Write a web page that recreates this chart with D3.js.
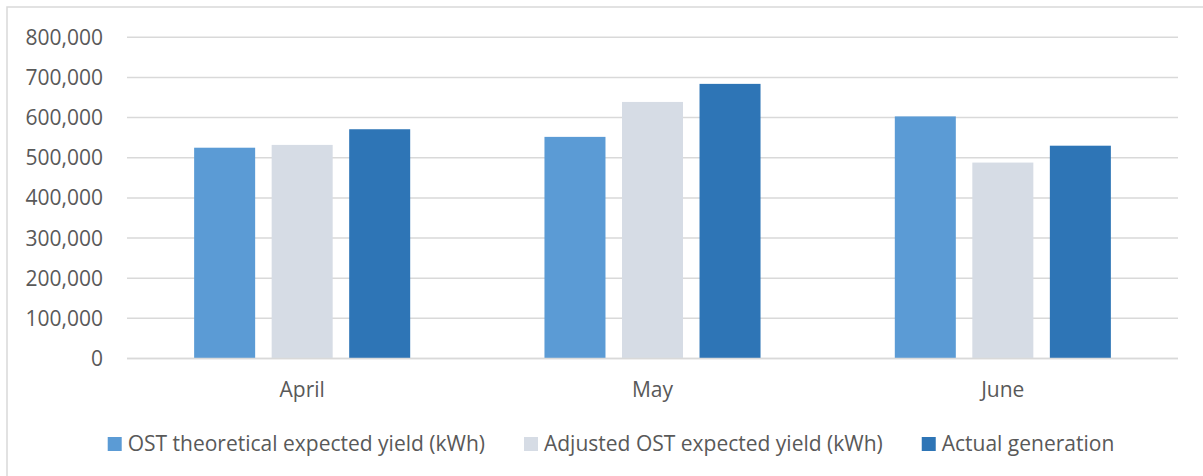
<!DOCTYPE html>
<html>
<head>
<meta charset="utf-8">
<script src="https://cdn.jsdelivr.net/npm/d3@7"></script>
<style>
  html, body { margin: 0; padding: 0; background: #fff; }
  svg { display: block; }
  text { font-family: "Open Sans", sans-serif; fill: #595959; }
</style>
</head>
<body>
<svg id="chart" width="1203" height="476"></svg>
<script>
const categories = ["April", "May", "June"];
const seriesNames = ["OST theoretical expected yield (kWh)", "Adjusted OST expected yield (kWh)", "Actual generation"];
const seriesColors = ["#5B9BD5", "#D6DCE5", "#2E75B6"];
const theoretical = [525000, 552000, 603000];
const adjusted = [532000, 639000, 488000];
const actual = [571000, 684000, 530000];
const yTicks = [0, 100000, 200000, 300000, 400000, 500000, 600000, 700000, 800000];

const seriesValues = [theoretical, adjusted, actual];
const data = categories.map((c, i) => ({
  cat: c,
  vals: seriesNames.map((s, j) => ({ key: s, idx: j, value: seriesValues[j][i] }))
}));

const svg = d3.select("#chart");
const fontSize = 21;

// outer frame
svg.append("rect")
  .attr("x", 7).attr("y", 7).attr("width", 1260).attr("height", 500)
  .attr("fill", "none").attr("stroke", "#d9d9d9").attr("stroke-width", 1.5);

const plotLeft = 127, plotRight = 1178, plotTop = 37.3, plotBottom = 358.5;

const y = d3.scaleLinear().domain([0, 800000]).range([plotBottom, plotTop]);
const x0 = d3.scaleBand().domain(categories).range([plotLeft, plotRight]).paddingInner(0).paddingOuter(0);
const x1 = d3.scaleBand().domain(d3.range(seriesNames.length))
  .range([0, x0.bandwidth()]).paddingInner(0.213).paddingOuter(0.866);

// gridlines
svg.append("g").selectAll("line").data(yTicks).join("line")
  .attr("x1", plotLeft).attr("x2", plotRight)
  .attr("y1", d => y(d)).attr("y2", d => y(d))
  .attr("stroke", "#d9d9d9").attr("stroke-width", 1.5);

// y-axis labels
const fmt = d3.format(",");
svg.append("g").selectAll("text").data(yTicks).join("text")
  .attr("x", 103).attr("y", d => y(d))
  .attr("dy", "0.36em")
  .attr("text-anchor", "end")
  .style("font-size", fontSize + "px")
  .text(d => fmt(d));

// bars
const groups = svg.append("g").selectAll("g").data(data).join("g")
  .attr("transform", d => `translate(${x0(d.cat)},0)`);
groups.selectAll("rect").data(d => d.vals).join("rect")
  .attr("x", d => x1(d.idx))
  .attr("width", x1.bandwidth())
  .attr("y", d => y(d.value))
  .attr("height", d => y(0) - y(d.value))
  .attr("fill", d => seriesColors[d.idx]);

// baseline on top
svg.append("line")
  .attr("x1", plotLeft).attr("x2", plotRight)
  .attr("y1", y(0)).attr("y2", y(0))
  .attr("stroke", "#d9d9d9").attr("stroke-width", 1.5);

// category labels
svg.append("g").selectAll("text").data(categories).join("text")
  .attr("x", d => x0(d) + x0.bandwidth() / 2)
  .attr("y", 397)
  .attr("text-anchor", "middle")
  .style("font-size", fontSize + "px")
  .text(d => d);

// legend
const legend = svg.append("g");
const items = legend.selectAll("g").data(seriesNames).join("g");
items.append("rect").attr("width", 14).attr("height", 14)
  .attr("y", 437).attr("fill", (d, i) => seriesColors[i]);
items.append("text").attr("x", 20).attr("y", 451)
  .style("font-size", fontSize + "px").text(d => d);
const widths = [];
items.each(function () {
  widths.push(20 + d3.select(this).select("text").node().getComputedTextLength());
});
const gap = 39;
const total = d3.sum(widths) + gap * (widths.length - 1);
let cx = 611 - total / 2;
items.attr("transform", (d, i) => {
  const t = `translate(${cx},0)`;
  cx += widths[i] + gap;
  return t;
});
</script>
</body>
</html>
